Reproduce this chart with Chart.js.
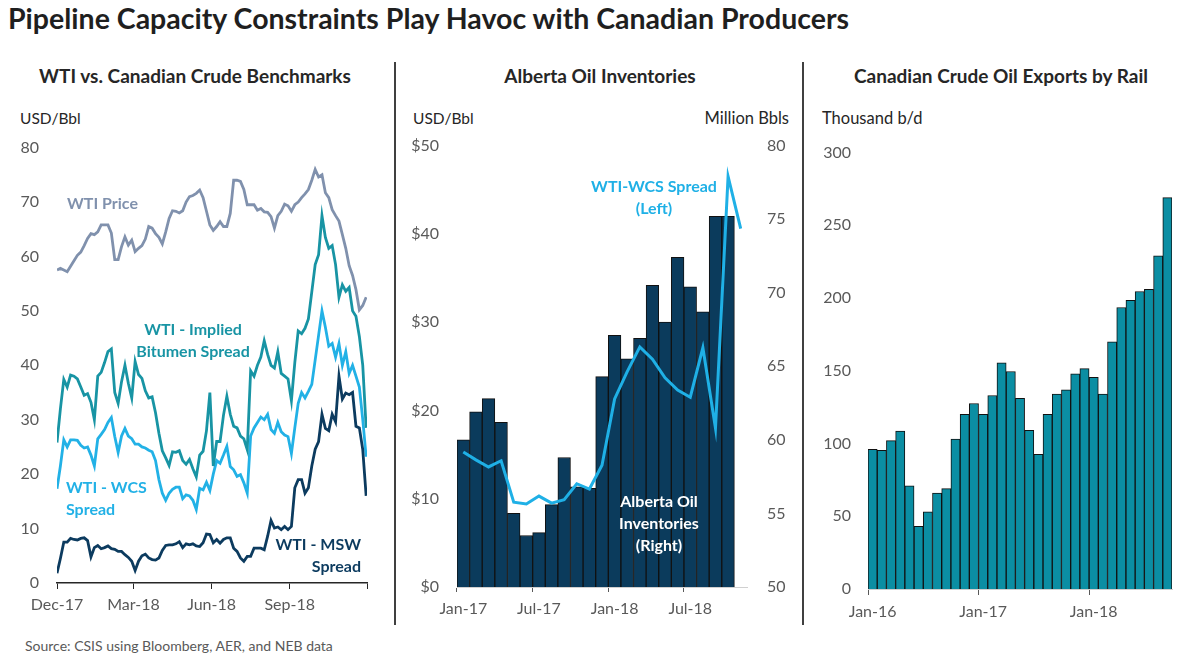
<!DOCTYPE html>
<html>
<head>
<meta charset="utf-8">
<script src="https://cdn.jsdelivr.net/npm/chart.js@4.4.0/dist/chart.umd.min.js"></script>
<style>
  body { margin:0; background:#fff; width:1200px; height:659px; position:relative; overflow:hidden; font-family: Lato, "Open Sans", sans-serif; color:#262626; }
  .t { position:absolute; white-space:nowrap; }
  .c { transform:translate(-50%,-50%); text-align:center; }
  .l { transform:translate(0,-50%); }
  .r { transform:translate(-100%,-50%); text-align:right; }
  canvas { position:absolute; }
  .sep { position:absolute; width:2px; background:#404040; top:62px; height:563px; }
  .ann { font-weight:bold; font-size:16px; line-height:22px; }
  .ptitle { font-size:19px; font-weight:bold; }
  .unit { font-size:16.5px; }
</style>
</head>
<body>
<div class="t" style="left:8px;top:1px;font-size:28.5px;font-weight:bold;color:#1f1f1f;">Pipeline Capacity Constraints Play Havoc with Canadian Producers</div>

<div class="t c ptitle" style="left:195px;top:75px;">WTI vs. Canadian Crude Benchmarks</div>
<div class="t c ptitle" style="left:600px;top:75px;">Alberta Oil Inventories</div>
<div class="t c ptitle" style="left:1001px;top:75px;">Canadian Crude Oil Exports by Rail</div>

<div class="t l unit" style="left:20px;top:118px;font-size:15.5px;">USD/Bbl</div>
<div class="t l unit" style="left:413px;top:118px;font-size:15.5px;">USD/Bbl</div>
<div class="t r unit" style="left:789px;top:118px;">Million Bbls</div>
<div class="t l unit" style="left:822px;top:118px;">Thousand b/d</div>

<div class="sep" style="left:394px;"></div>
<div class="sep" style="left:802px;"></div>

<canvas id="c1" width="390" height="510" style="left:0;top:120px;"></canvas>
<canvas id="c2" width="400" height="514" style="left:400px;top:116px;"></canvas>
<canvas id="c3" width="395" height="504" style="left:805px;top:126px;"></canvas>

<div class="t l ann" style="left:67px;top:203px;color:#8091ad;">WTI Price</div>
<div class="t c ann" style="left:193px;top:340px;color:#1894a4;">WTI - Implied<br>Bitumen Spread</div>
<div class="t ann" style="left:66px;top:476px;color:#22b1e6;">WTI - WCS<br>Spread</div>
<div class="t ann" style="left:361px;top:533px;color:#0c3b5f;transform:translate(-100%,0);text-align:right;">WTI - MSW<br>Spread</div>

<div class="t c ann" style="left:654px;top:197px;color:#1fb0e6;">WTI-WCS Spread<br>(Left)</div>
<div class="t c ann" style="left:659px;top:523px;color:#ffffff;">Alberta Oil<br>Inventories<br>(Right)</div>

<div class="t l" style="left:25px;top:645px;font-size:14px;color:#595959;">Source: CSIS using Bloomberg, AER, and NEB data</div>

<script>
// ---- panel 1: daily benchmarks, sampled every 4 days from 1 Dec 2017
const benchDays = [0,4,8,12,16,20,24,28,32,36,40,44,48,52,56,60,64,68,72,76,80,84,88,92,96,100,104,108,112,116,120,124,128,132,136,140,144,148,152,156,160,164,168,172,176,180,184,188,192,196,200,204,208,212,216,220,224,228,232,236,240,244,248,252,256,260,264,268,272,276,280,284,288,292,296,300,304,308,312,316,320,324,328,332,336,340,344,348,352,356,360,364];
const wtiPrice = [57.5,57.8,57.5,57.2,58.2,59.2,60.2,60.8,62,63.3,
  64.2,64,64.5,65.8,65.8,65.8,64.3,59.4,59.4,61.8,
  63.6,62.1,63,60.9,61.5,62,63.2,65.5,65.2,64.2,
  63.5,62.3,64.5,67,68.4,68.3,68,68.4,70,71,
  71.2,71.6,72.2,70.8,68.3,65.8,64.8,65.5,66.4,65.5,
  65.5,67.9,74,74,73.8,72.3,69.5,69.5,69.5,68.5,
  68.8,68.2,68.1,67.3,65.2,67.5,68.3,69.6,69.3,68.3,
  69.5,70,70.8,71.5,72.3,74,76,74.6,75,71.7,
  70.8,68.6,67.5,66.5,64,61.5,58.3,56.5,53.9,50.2,
  51,52.5];
const bitumenSpread = [25.8,32,37.4,36,38.2,38,37.5,36,34.5,34.8,
  33.2,30,38,38.7,40.5,42.5,43,35,33,37,
  40,36.7,34,40.7,38.3,37.6,35.3,34,34.2,31.3,
  27.5,24.3,23,21.6,24.1,24,24.3,22.5,21.8,22.7,
  21,19.5,23.5,24.2,28,35,21.5,26,26,30.8,
  34.3,31,28.8,28.5,27,26.5,24.5,39,38,40,
  41.5,44.5,42,40,39.5,42.5,38.5,38,37.5,33.5,
  40.5,46.3,45.8,46.8,48.5,53.5,58.5,60.3,67.5,63.5,
  61.5,62,58.5,52.5,54.8,53.6,54.3,50,49,45.3,
  40,28.5];
const wcsDaily = [17.3,21.5,26.3,25,26.3,26.3,26.2,25.3,24.8,25,
  23.5,21.5,26.5,27.3,28.2,29.5,30.4,26.9,24,27,
  28.4,27,26.5,25.5,25.5,25,24.8,24.4,24.1,22.5,
  19,16.5,15.2,16.5,17.2,17.6,17.6,15.5,16.2,16,
  15.2,13.5,17.4,17.1,18.5,17,20,22.5,22,23.5,
  25.1,21.4,20.8,19.6,19.9,18.4,16.5,27,28.5,29.5,
  30.5,30,31,28.2,27.5,29.5,27.8,27.2,26.9,23.8,
  28.5,33,35,34,35.2,36.5,41,45.5,50,47,
  43.5,44,41.5,44,40,42.5,38.5,40,38,36,
  30,23.2];
const mswSpread = [1.8,4.5,7.5,7.5,8.2,8,7.9,8.2,8.3,7.8,
  4.8,6.5,6.9,6.3,6.5,6.8,6.3,6.2,5.8,5.8,
  5.2,4.7,4,2.3,4,5,5.3,4.6,4.3,4.2,
  4.6,6,6.9,7,7,7.2,7.6,6.5,7.2,7,
  7.2,6.8,6.7,7.4,9,8.9,7.4,8,7.3,8,
  8.3,8.3,6.4,5.8,4.6,4,4.9,4.9,6.4,6.4,
  6.4,6.1,8.6,11.5,10.1,10.3,9.8,10.4,9.8,10.4,
  17.5,19,19,16.5,17.5,21.5,24.6,26,31,28.4,
  28,31,29.6,38,33.8,34.9,34.6,35,28.8,28.5,
  24.5,16];
const benchTickDays = [0, 90, 182, 274, 365];
const benchTickLabels = ['Dec-17', 'Mar-18', 'Jun-18', 'Sep-18', ''];

// ---- panel 2: monthly Alberta inventories and WTI-WCS spread
const albMonths = ['Jan-17','Feb-17','Mar-17','Apr-17','May-17','Jun-17','Jul-17','Aug-17','Sep-17','Oct-17','Nov-17','Dec-17',
  'Jan-18','Feb-18','Mar-18','Apr-18','May-18','Jun-18','Jul-18','Aug-18','Sep-18','Oct-18','Nov-18'];
const albInventories = [60.0,61.9,62.8,61.2,55.0,53.5,53.7,55.6,58.8,56.8,56.7,64.3,
  67.1,65.5,66.9,70.5,68.0,72.4,70.4,68.7,75.2,75.2,null];
const wcsMonthly = [15.3,14.4,13.6,14.3,9.6,9.4,10.3,9.5,9.9,11.7,11.1,13.8,
  21.3,24.4,27.2,25.8,23.7,22.3,21.5,27.1,18.0,46.5,40.6];

// ---- panel 3: rail exports
const railMonths = ['Jan-16','Feb-16','Mar-16','Apr-16','May-16','Jun-16','Jul-16','Aug-16','Sep-16','Oct-16','Nov-16','Dec-16',
  'Jan-17','Feb-17','Mar-17','Apr-17','May-17','Jun-17','Jul-17','Aug-17','Sep-17','Oct-17','Nov-17','Dec-17',
  'Jan-18','Feb-18','Mar-18','Apr-18','May-18','Jun-18','Jul-18','Aug-18','Sep-18'];
const railExports = [96,95.4,102,108.5,71,43,53,66,69,103,120,127.5,
  120,133,155.5,149.5,131,109,92.5,120,134,137,148,151.5,
  145.5,134,170,193.5,198.5,204.5,206,229,269];

const tickFont = { family: 'Lato', size: 16 };
const grey = '#595959';
const noGrid = { display: false, drawTicks: false };
const common = {
  responsive: false, animation: false, devicePixelRatio: 1,
  plugins: { legend: { display: false }, tooltip: { enabled: false } }
};

function pts(vals) { return benchDays.map((d, i) => ({ x: d, y: vals[i] })); }

new Chart(document.getElementById('c1'), {
  type: 'line',
  data: {
    datasets: [
      { data: pts(mswSpread), borderColor: '#0c3b5f' },
      { data: pts(bitumenSpread), borderColor: '#1894a4' },
      { data: pts(wcsDaily), borderColor: '#22b1e6' },
      { data: pts(wtiPrice), borderColor: '#8091ad' }
    ]
  },
  options: {
    ...common,
    layout: { padding: { top: 0, right: 23, left: 0, bottom: 0 } },
    elements: { point: { radius: 0 }, line: { borderWidth: 2.8, tension: 0 } },
    scales: {
      x: {
        type: 'linear', min: 0, max: 365,
        afterBuildTicks: s => { s.ticks = benchTickDays.map(v => ({ value: v })); },
        afterFit: s => { s.height = 47; },
        ticks: { autoSkip: false, maxRotation: 0, padding: 6, color: grey, font: tickFont,
          callback: (v, i) => benchTickLabels[i] },
        grid: { drawOnChartArea: false, tickLength: 6, color: '#262626' },
        border: { color: '#262626', width: 1.5 }
      },
      y: {
        min: 0, max: 80,
        afterFit: s => { s.width = 57; },
        ticks: { stepSize: 10, padding: 18, color: grey, font: tickFont },
        grid: noGrid, border: { display: false }
      }
    }
  }
});

new Chart(document.getElementById('c2'), {
  type: 'bar',
  data: {
    labels: albMonths,
    datasets: [
      { type: 'line', data: wcsMonthly, yAxisID: 'y', borderColor: '#1fb0e6', borderWidth: 3,
        pointRadius: 0, tension: 0, order: 0 },
      { type: 'bar', data: albInventories, yAxisID: 'y1', backgroundColor: '#0b3b5c',
        borderColor: '#111111', borderWidth: 1, barPercentage: 1, categoryPercentage: 1, order: 1 }
    ]
  },
  options: {
    ...common,
    layout: { padding: { top: 0, right: 0, left: 0, bottom: 0 } },
    scales: {
      x: {
        afterFit: s => { s.height = 43; },
        ticks: { autoSkip: false, maxRotation: 0, padding: 7, color: grey, font: tickFont,
          callback: (v, i) => (i % 6 === 0 ? albMonths[i] : '') },
        grid: { offset: true, drawOnChartArea: false, tickLength: 5,
          color: ctx => (ctx.index % 6 === 0 && ctx.index < albMonths.length ? '#595959' : 'rgba(0,0,0,0)') },
        border: { color: '#d0d0d0' }
      },
      y: {
        position: 'left', min: 0, max: 50,
        afterFit: s => { s.width = 57; },
        ticks: { stepSize: 10, padding: 18, color: grey, font: tickFont, callback: v => '$' + v },
        grid: noGrid, border: { display: false }
      },
      y1: {
        position: 'right', min: 50, max: 80,
        afterFit: s => { s.width = 53; },
        ticks: { stepSize: 5, padding: 20, color: grey, font: tickFont },
        grid: noGrid, border: { display: false }
      }
    }
  }
});

new Chart(document.getElementById('c3'), {
  type: 'bar',
  data: {
    labels: railMonths,
    datasets: [
      { data: railExports, backgroundColor: '#0b8ea3', borderColor: '#111111', borderWidth: 1,
        barPercentage: 1, categoryPercentage: 1 }
    ]
  },
  options: {
    ...common,
    layout: { padding: { top: 0, right: 28, left: 0, bottom: 0 } },
    scales: {
      x: {
        afterFit: s => { s.height = 41; },
        ticks: { autoSkip: false, maxRotation: 0, padding: 7, color: grey, font: tickFont,
          callback: (v, i) => (i % 12 === 0 ? railMonths[i] : '') },
        grid: { offset: true, drawOnChartArea: false, tickLength: 6,
          color: ctx => (ctx.index % 12 === 0 && ctx.index < railMonths.length ? '#595959' : 'rgba(0,0,0,0)') },
        border: { color: '#d0d0d0' }
      },
      y: {
        min: 0, max: 300,
        afterFit: s => { s.width = 63; },
        ticks: { stepSize: 50, padding: 17, color: grey, font: tickFont },
        grid: noGrid, border: { display: false }
      }
    }
  }
});
</script>
</body>
</html>
